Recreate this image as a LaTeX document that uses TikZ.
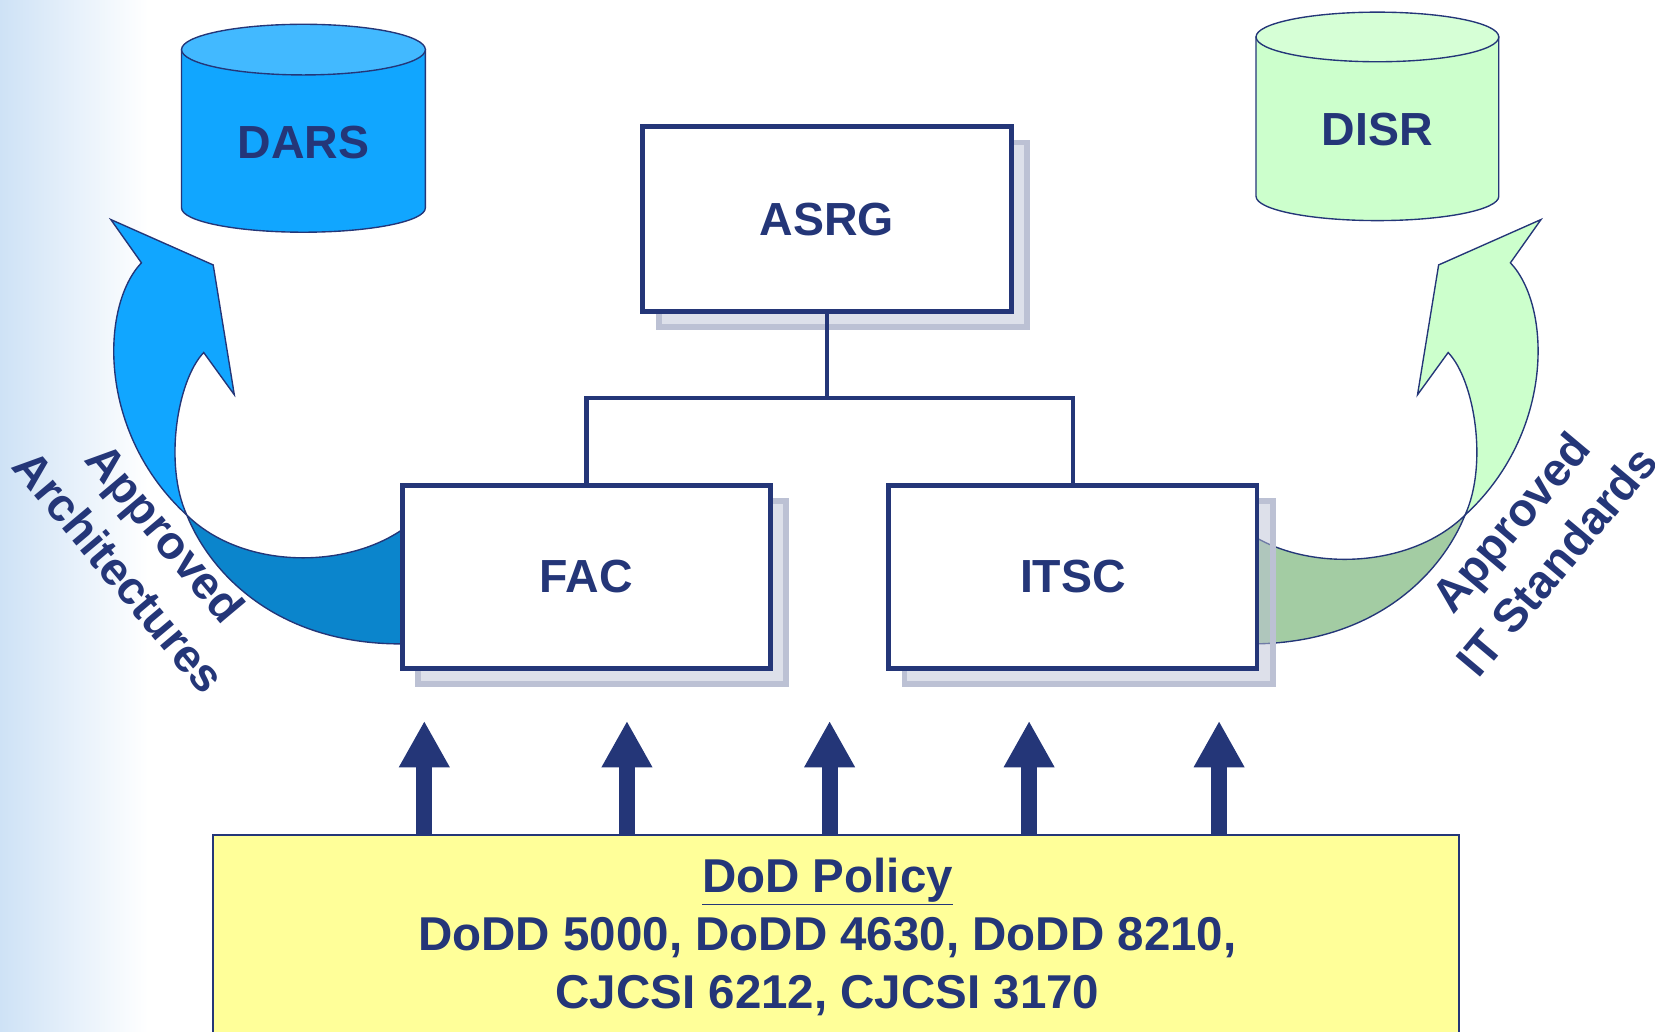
\documentclass[tikz,border=0pt]{standalone}
\usepackage{fontspec}
\setmainfont{Liberation Sans}
\usetikzlibrary{arrows.meta}

\definecolor{navy}{RGB}{36,54,120}
\definecolor{darsblue}{RGB}{17,166,255}
\definecolor{darstop}{RGB}{66,185,255}
\definecolor{darsdark}{RGB}{11,133,204}
\definecolor{disrgreen}{RGB}{204,255,204}
\definecolor{disrtop}{RGB}{214,255,214}
\definecolor{disrdark}{RGB}{163,204,163}
\definecolor{policyyellow}{RGB}{255,255,153}
\definecolor{shadowline}{RGB}{188,193,212}
\definecolor{shadowfill}{RGB}{187,193,213}
\definecolor{skyblue}{RGB}{206,226,246}

\tikzset{
  orgbox/.style={draw=navy, line width=4.5pt, fill=white, outer sep=0pt,
    minimum width=349pt, minimum height=175pt, text=navy,
    font=\fontsize{44}{50}\selectfont\bfseries,
    preaction={draw=shadowline, fill=shadowfill, fill opacity=0.5, line width=5.5pt,
      transform canvas={shift={(15pt,-15pt)}}}},
  dbtext/.style={text=navy, font=\fontsize{44}{50}\selectfont\bfseries},
  cylline/.style={draw=navy, line width=1.3pt},
  orgline/.style={draw=navy, line width=4.5pt},
  uparrow/.style={draw=navy, line width=15pt, -{Triangle[width=45pt,length=44pt]}},
  flowlabel/.style={text=navy, align=center, font=\fontsize{44}{57}\selectfont\bfseries},
}

\begin{document}
\begin{tikzpicture}[x=1pt, y=-1pt]
    \useasboundingbox (0,0) rectangle (1568,977);
    \clip (0,0) rectangle (1568,977);
    % background
    \shade[left color=skyblue, right color=white] (0,0) rectangle (140,977);

    % curved arrows to the repositories
    \filldraw[cylline, fill=darsblue] (105,208) -- (202,251) -- (222,374) -- (193,334)
        .. controls (168,360) and (155,440) .. (177,488)
        .. controls (92,410) and (95,290) .. (134,249) -- cycle;
    \filldraw[cylline, fill=darsdark] (177,488) .. controls (200,545) and (265,612) .. (385,610)
        -- (385,499) .. controls (330,540) and (230,540) .. (177,488) -- cycle;
    \filldraw[cylline, fill=disrgreen] (1460,208) -- (1363,251) -- (1343,374) -- (1372,334)
        .. controls (1397,360) and (1410,440) .. (1388,488)
        .. controls (1473,410) and (1470,290) .. (1431,249) -- cycle;
    \filldraw[cylline, fill=disrdark] (1388,488) .. controls (1365,545) and (1300,612) .. (1180,610)
        -- (1180,503) .. controls (1235,542) and (1335,540) .. (1388,488) -- cycle;

    % repositories
    \filldraw[cylline, fill=darsblue] (172,47) -- (172,197)
        arc[start angle=180, end angle=360, x radius=115.5pt, y radius=23pt] -- (403,47) -- cycle;
    \filldraw[cylline, fill=darstop] (287.5,47) ellipse[x radius=115.5pt, y radius=24pt];
    \node[dbtext] (dars) at (287.5,135) {DARS};
    \filldraw[cylline, fill=disrgreen] (1190,35) -- (1190,186)
        arc[start angle=180, end angle=360, x radius=115pt, y radius=23pt] -- (1420,35) -- cycle;
    \filldraw[cylline, fill=disrtop] (1305,35) ellipse[x radius=115pt, y radius=23.5pt];
    \node[dbtext] (disr) at (1305,123) {DISR};

    % boards
    \node[orgbox] (asrg) at (783.5,207.5) {ASRG};
    \node[orgbox, minimum height=173pt] (fac) at (555.5,546.5) {FAC};
    \node[orgbox, minimum height=173pt] (itsc) at (1016.5,546.5) {ITSC};
    \draw[orgline] (asrg.south) -- ++(0,82) coordinate (split) -| (fac.north);
    \draw[orgline] (split) -| (itsc.north);

    % policy
    \node[draw=navy, line width=1.8pt, fill=policyyellow, outer sep=0pt,
        minimum width=1180pt, minimum height=192pt] (policy) at (792,887) {};
    \node[text=navy, align=center, font=\fontsize{45}{55}\selectfont\bfseries] (policytext) at (784,888)
        {\underline{DoD Policy}\\DoDD 5000, DoDD 4630, DoDD 8210,\\CJCSI 6212, CJCSI 3170};
    \foreach \x [count=\i] in {402,594,786,975,1155} {
        \coordinate (in\i) at (\x,683);
        \draw[uparrow] (policy.north -| in\i) -- (in\i);
    }

    % arrow labels
    \node[flowlabel, rotate=-50] (archlabel) at (135,523) {Approved\\Architectures};
    \node[flowlabel, rotate=50] (stdlabel) at (1453,513) {Approved\\IT Standards};
\end{tikzpicture}
\end{document}
